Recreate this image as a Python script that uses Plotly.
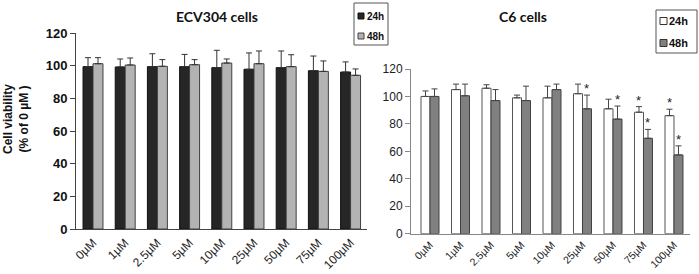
import plotly.graph_objects as go

W, H = 699, 274

categories = ["0µM", "1µM", "2.5µM", "5µM", "10µM", "25µM", "50µM", "75µM", "100µM"]
series_names = ["24h", "48h"]

# ECV304 cells
ecv_24 = [99.4, 99.2, 99.4, 99.4, 98.8, 97.8, 98.8, 96.9, 96.1]
ecv_24_err = [5.5, 4.9, 7.9, 7.5, 10.6, 10.0, 10.2, 9.0, 6.2]
ecv_48 = [101.2, 100.4, 99.6, 100.6, 101.6, 101.2, 99.4, 96.5, 94.1]
ecv_48_err = [3.7, 4.3, 4.1, 3.1, 2.5, 7.8, 7.3, 6.4, 3.9]

# C6 cells
c6_24 = [100.0, 105.0, 106.0, 99.0, 99.0, 102.0, 91.0, 88.5, 86.0]
c6_24_err = [4.0, 4.0, 2.5, 2.0, 8.5, 7.0, 7.0, 4.1, 4.7]
c6_48 = [100.0, 100.5, 97.0, 97.0, 105.0, 91.0, 83.5, 69.5, 57.4]
c6_48_err = [5.5, 8.5, 8.0, 10.5, 4.0, 10.0, 9.5, 6.5, 6.6]

# significance stars: (category index, series index)
c6_stars = [(5, 1), (6, 1), (7, 0), (7, 1), (8, 0), (8, 1)]

y_ticks = [0, 20, 40, 60, 80, 100, 120]


def px_x(p):
    return p / W


def px_y(p):
    return 1 - p / H


fig = go.Figure()

# Left chart bars
for vals, errs, color, line, name, off in [
    (ecv_24, ecv_24_err, "#262626", "#111111", series_names[0], -0.31),
    (ecv_48, ecv_48_err, "#b3b3b3", "#404040", series_names[1], 0.0),
]:
    fig.add_trace(go.Bar(
        x=categories, y=vals, name=name, xaxis="x", yaxis="y",
        width=0.31, offset=off,
        marker=dict(color=color, line=dict(color=line, width=1)),
        error_y=dict(type="data", array=errs, arrayminus=[0] * len(errs), symmetric=False,
                     color="#333333", thickness=1, width=3),
        showlegend=False,
    ))

# Right chart bars
for vals, errs, color, line, name, off in [
    (c6_24, c6_24_err, "#ffffff", "#555555", series_names[0], -0.295),
    (c6_48, c6_48_err, "#808080", "#404040", series_names[1], 0.0),
]:
    fig.add_trace(go.Bar(
        x=categories, y=vals, name=name, xaxis="x2", yaxis="y2",
        width=0.295, offset=off,
        marker=dict(color=color, line=dict(color=line, width=1)),
        error_y=dict(type="data", array=errs, arrayminus=[0] * len(errs), symmetric=False,
                     color="#444444", thickness=1, width=3),
        showlegend=False,
    ))

annotations = []
c6_vals = [c6_24, c6_48]
c6_errs = [c6_24_err, c6_48_err]
for ci, si in c6_stars:
    top = c6_vals[si][ci] + c6_errs[si][ci]
    xshift = -4.5 if si == 0 else 4.5
    annotations.append(dict(
        x=categories[ci], y=top, xref="x2", yref="y2", text="*", showarrow=False,
        xshift=xshift, yanchor="bottom", xanchor="center", yshift=-3,
        font=dict(family="Liberation Sans", size=13, color="#222222"),
    ))

# Titles
annotations.append(dict(x=px_x(217), y=px_y(17), xref="paper", yref="paper", text="<b>ECV304 cells</b>",
                        showarrow=False, xanchor="center", yanchor="middle",
                        font=dict(family="Lato", size=14, color="#111111")))
annotations.append(dict(x=px_x(523), y=px_y(17), xref="paper", yref="paper", text="<b>C6 cells</b>",
                        showarrow=False, xanchor="center", yanchor="middle",
                        font=dict(family="Lato", size=14, color="#111111")))
# Y-axis title
annotations.append(dict(x=px_x(16), y=px_y(119), xref="paper", yref="paper",
                        text="<b>Cell viability<br>(% of 0 µM )</b>", textangle=-90,
                        showarrow=False, xanchor="center", yanchor="middle",
                        font=dict(family="Liberation Sans", size=12, color="#111111")))

shapes = []
# Left legend (manual)
shapes.append(dict(type="rect", xref="paper", yref="paper", x0=px_x(354), x1=px_x(388),
                   y0=px_y(45), y1=px_y(3), line=dict(color="#555555", width=1), fillcolor="white"))
for i, (nm, col, lc) in enumerate(zip(series_names, ["#262626", "#b3b3b3"], ["#111111", "#444444"])):
    yc = [16, 36][i]
    shapes.append(dict(type="rect", xref="paper", yref="paper", x0=px_x(358), x1=px_x(364),
                       y0=px_y(yc + 3), y1=px_y(yc - 3), line=dict(color=lc, width=1), fillcolor=col))
    annotations.append(dict(x=px_x(364.5), y=px_y(yc), xref="paper", yref="paper", text="<b>" + nm + "</b>",
                            xanchor="left", yanchor="middle", showarrow=False,
                            font=dict(family="Liberation Sans", size=10, color="#111111")))
# Right legend (manual)
shapes.append(dict(type="rect", xref="paper", yref="paper", x0=px_x(656), x1=px_x(697),
                   y0=px_y(53), y1=px_y(10), line=dict(color="#555555", width=1), fillcolor="white"))
for i, (nm, col, lc) in enumerate(zip(series_names, ["#ffffff", "#808080"], ["#333333", "#333333"])):
    yc = [21, 43][i]
    shapes.append(dict(type="rect", xref="paper", yref="paper", x0=px_x(660), x1=px_x(667),
                       y0=px_y(yc + 3.5), y1=px_y(yc - 3.5), line=dict(color=lc, width=1), fillcolor=col))
    annotations.append(dict(x=px_x(667), y=px_y(yc), xref="paper", yref="paper", text="<b>" + nm + "</b>",
                            xanchor="left", yanchor="middle", showarrow=False,
                            font=dict(family="Liberation Sans", size=11, color="#111111")))

fig.update_layout(
    width=W, height=H, margin=dict(l=0, r=0, t=0, b=0, pad=0, autoexpand=False),
    paper_bgcolor="white", plot_bgcolor="white",
    barmode="overlay",
    xaxis=dict(domain=[px_x(76), px_x(367)], range=[-0.528, 8.51], type="category",
               showline=True, linecolor="#444444", linewidth=1, ticks="", tickangle=-45,
               ticklabelstandoff=1,
               tickfont=dict(family="Liberation Sans", size=12, color="#222222"),
               showgrid=False, anchor="y", automargin=False),
    yaxis=dict(domain=[px_y(229), px_y(33)], range=[0, 120], tickvals=y_ticks,
               showline=True, linecolor="#444444", linewidth=1, ticks="outside", ticklen=5,
               tickcolor="#444444",
               tickfont=dict(family="Liberation Sans", size=13, color="#111111", weight="bold"),
               showgrid=False, zeroline=False, anchor="x", automargin=False),
    xaxis2=dict(domain=[px_x(411), px_x(690)], range=[-0.623, 8.525], type="category",
                showline=True, linecolor="#888888", linewidth=1, ticks="", tickangle=-45,
                ticklabelstandoff=0,
                tickfont=dict(family="Liberation Sans", size=10.5, color="#222222"),
                showgrid=False, anchor="y2", automargin=False),
    yaxis2=dict(domain=[px_y(233.7), px_y(69)], range=[0, 120], tickvals=y_ticks,
                showline=True, linecolor="#888888", linewidth=1, ticks="outside", ticklen=5,
                tickcolor="#888888",
                tickfont=dict(family="Liberation Sans", size=12, color="#222222"),
                showgrid=False, zeroline=False, anchor="x2", automargin=False),
    annotations=annotations,
    shapes=shapes,
)

fig.write_html(
    "out.html",
    config={"displayModeBar": False},
    post_script="document.body.style.margin='0';document.body.style.padding='0';",
)
